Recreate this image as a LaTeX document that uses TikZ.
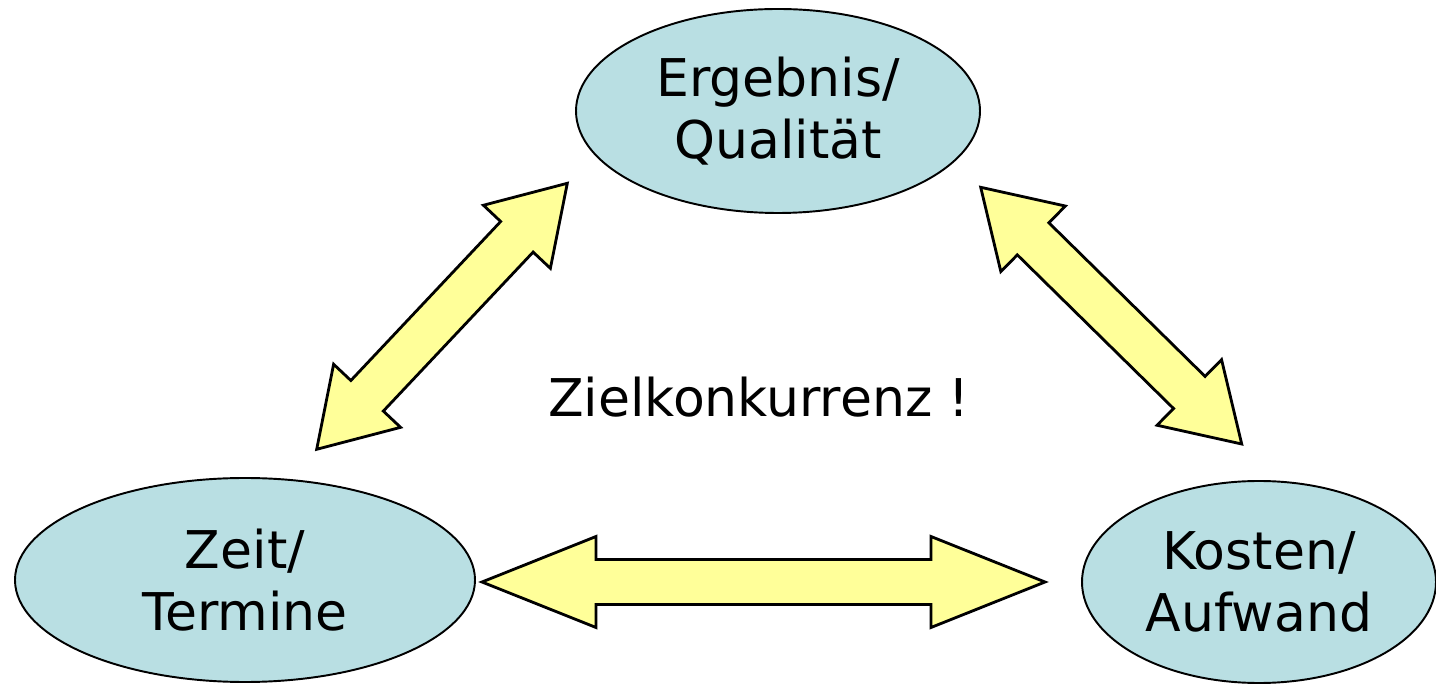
\documentclass[tikz,border=0pt]{standalone}
\usepackage{fontspec}
\setmainfont{DejaVu Sans}
\usetikzlibrary{shapes.geometric,calc}

\definecolor{hellblau}{RGB}{185,223,227}
\definecolor{hellgelb}{RGB}{255,255,153}

% Doppelpfeil: Spitze, Spitze, Kopflaenge, halbe Kopfbreite, halbe Schaftbreite
\newcommand{\doppelpfeil}[5]{%
  \draw[pfeil] (#1)
    -- ($(#1)!#3!(#2)!#4!90:(#2)$)
    -- ($(#1)!#3!(#2)!#5!90:(#2)$)
    -- ($(#2)!#3!(#1)!#5!-90:(#1)$)
    -- ($(#2)!#3!(#1)!#4!-90:(#1)$)
    -- (#2)
    -- ($(#2)!#3!(#1)!#4!90:(#1)$)
    -- ($(#2)!#3!(#1)!#5!90:(#1)$)
    -- ($(#1)!#3!(#2)!#5!-90:(#2)$)
    -- ($(#1)!#3!(#2)!#4!-90:(#2)$)
    -- cycle;}

\begin{document}
\begin{tikzpicture}[font = \fontsize{29.6pt}{35.3pt}\selectfont,
  ziel/.style = {ellipse, draw, line width = 1.1pt, fill = hellblau,
                 inner sep = 0pt, align = center},
  pfeil/.style = {draw, line width = 1.6pt, fill = hellgelb, line join = miter}]
            \useasboundingbox (0,0) rectangle (28.72,13.68);

            \node[ziel, minimum width = 8.08cm, minimum height = 4.08cm]
            (ergebnis) at (15.56,11.46) {Ergebnis/\\Qualität};
            \node[ziel, minimum width = 9.2cm, minimum height = 4.08cm]
            (zeit) at (4.90,2.08) {Zeit/\\Termine};
            \node[ziel, minimum width = 7.08cm, minimum height = 4.04cm]
            (kosten) at (25.18,2.04) {Kosten/\\Aufwand};

            \node[anchor = base] (konkurrenz) at (15.18,5.34) {Zielkonkurrenz !};

            % Pfeilspitzen
            \coordinate (zeit-oben) at (6.334,4.694);
            \coordinate (ergebnis-links) at (11.346,10.014);
            \coordinate (ergebnis-rechts) at (19.614,9.934);
            \coordinate (kosten-oben) at (24.834,4.80);
            \coordinate (zeit-rechts) at (9.64,2.04);
            \coordinate (kosten-links) at (20.90,2.04);

            \doppelpfeil{zeit-oben}{ergebnis-links}{1.47cm}{0.92cm}{0.446cm}
            \doppelpfeil{ergebnis-rechts}{kosten-oben}{1.47cm}{0.92cm}{0.45cm}
            \doppelpfeil{zeit-rechts}{kosten-links}{2.28cm}{0.91cm}{0.45cm}
        \end{tikzpicture}
\end{document}
